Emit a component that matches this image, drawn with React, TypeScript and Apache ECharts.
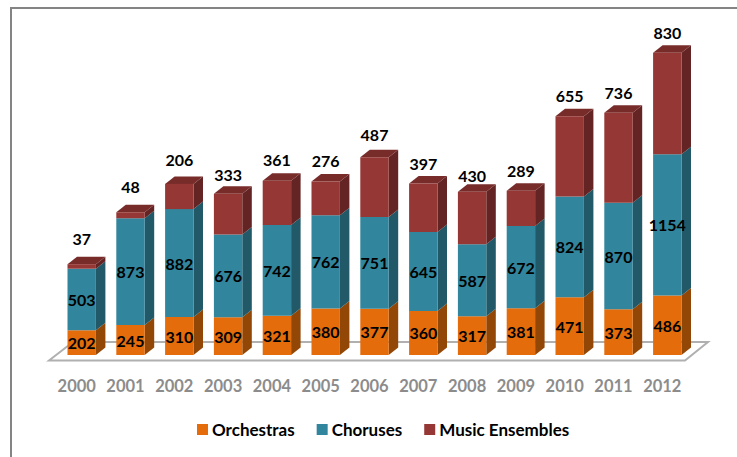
import React, { useEffect, useRef } from "react";
import * as echarts from "echarts";

const years = ["2000","2001","2002","2003","2004","2005","2006","2007","2008","2009","2010","2011","2012"];
const orchestras = [202,245,310,309,321,380,377,360,317,381,471,373,486];
const choruses = [503,873,882,676,742,762,751,645,587,672,824,870,1154];
const ensembles = [37,48,206,333,361,276,487,397,430,289,655,736,830];
const topLabelLift = [27,27,25,20,22,22,24,21,17,21,22,21,21];

const FONT = "Lato";
const DX = 9.5, DY = 7.5, HALF = 14.2;

function sideSeries(name: string, base: number[], vals: number[], side: string, top: string | null) {
  return {
    type: "custom",
    name: name + " depth",
    silent: true,
    z: 1,
    coordinateSystem: "cartesian2d",
    legendHoverLink: false,
    data: vals.map((v, i) => [i, base[i], base[i] + v]),
    renderItem: (_p: any, api: any) => {
      const i = api.value(0);
      const a = api.coord([i, api.value(1)]);
      const b = api.coord([i, api.value(2)]);
      const r = a[0] + HALF;
      const children: any[] = [{
        type: "polygon",
        shape: { points: [[r, a[1]], [r + DX, a[1] - DY], [r + DX, b[1] - DY], [r, b[1]]] },
        style: { fill: side },
      }];
      if (top) children.push({
        type: "polygon",
        shape: { points: [[r - 2 * HALF, b[1]], [r - 2 * HALF + DX, b[1] - DY], [r + DX, b[1] - DY], [r, b[1]]] },
        style: { fill: top },
      });
      return { type: "group", children };
    },
  };
}

export default function App() {
  const ref = useRef<HTMLDivElement>(null);
  useEffect(() => {
    const chart = echarts.init(ref.current!, null, { renderer: "svg" });
    const base2 = orchestras;
    const base3 = orchestras.map((v, i) => v + choruses[i]);
    const inner = { show: true, position: "inside", color: "#000", fontFamily: FONT, fontWeight: "bold", fontSize: 16 };
    chart.setOption({
      animation: false,
      backgroundColor: "#fff",
      graphic: [
        { type: "polyline", silent: true, z: -1, shape: { points: [[11, 457], [11, 8], [737, 8]] }, style: { stroke: "#848484", fill: "none", lineWidth: 2 } },
        { type: "polygon", silent: true, z: -1, shape: { points: [[49, 360.5], [73, 342], [708, 342], [685, 360.5]] }, style: { fill: "#fff", stroke: "#b0b0b0", lineWidth: 2 } },
      ],
      grid: { left: 57.3, width: 634.4, top: 49, height: 306 },
      xAxis: {
        type: "category",
        data: years,
        axisLine: { show: false },
        axisTick: { show: false },
        axisLabel: { color: "#8c8c8c", fontFamily: FONT, fontWeight: "bold", fontSize: 16.5, margin: 22, padding: [0, 10, 0, 0], interval: 0 },
      },
      yAxis: { type: "value", min: 0, max: 2500, show: false },
      legend: {
        top: 421,
        left: 197,
        padding: 0,
        itemGap: 22,
        itemWidth: 11,
        itemHeight: 11,
        icon: "rect",
        data: ["Orchestras", "Choruses", "Music Ensembles"],
        textStyle: { color: "#000", fontFamily: FONT, fontWeight: "bold", fontSize: 17, padding: [0, 0, 0, -1] },
      },
      series: [
        sideSeries("Orchestras", orchestras.map(() => 0), orchestras, "#924706", null),
        sideSeries("Choruses", base2, choruses, "#215968", null),
        sideSeries("Music Ensembles", base3, ensembles, "#632423", "#772c2a"),
        { type: "bar", name: "Orchestras", stack: "t", barWidth: 28.4, z: 2, data: orchestras, itemStyle: { color: "#e46c0a" }, label: inner },
        { type: "bar", name: "Choruses", stack: "t", barWidth: 28.4, z: 2, data: choruses, itemStyle: { color: "#31859c" }, label: inner },
        {
          type: "bar", name: "Music Ensembles", stack: "t", barWidth: 28.4, z: 2,
          itemStyle: { color: "#953735" },
          data: ensembles.map((v, i) => ({
            value: v,
            label: { show: true, position: "top", distance: topLabelLift[i] - 9, color: "#000", fontFamily: FONT, fontWeight: "bold", fontSize: 16 },
          })),
        },
      ],
    });
    return () => chart.dispose();
  }, []);
  return <div ref={ref} style={{ position: "absolute", left: 0, top: 0, width: 737, height: 457 }} />;
}
